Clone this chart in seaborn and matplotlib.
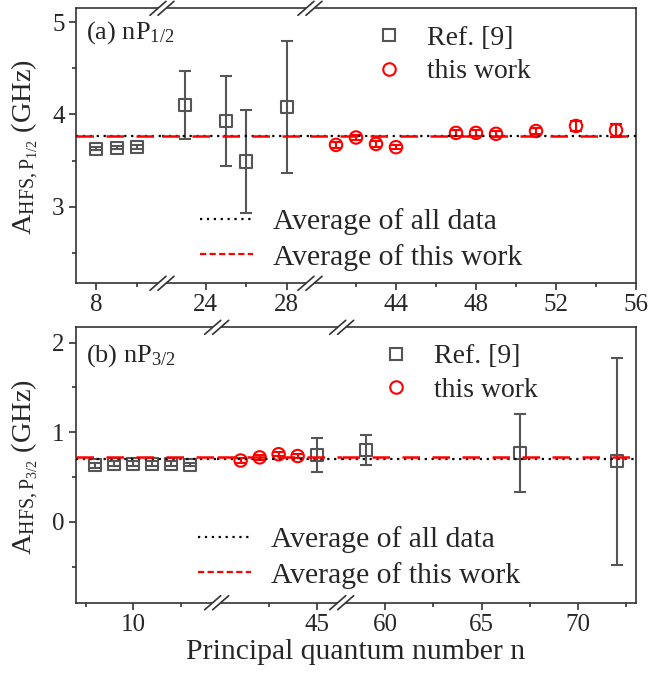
import numpy as np
import matplotlib
matplotlib.use('Agg')
import matplotlib.pyplot as plt
from matplotlib.lines import Line2D
from matplotlib.patches import Polygon
import seaborn as sns

# ---- data (a) nP1/2 ----
ref_n_p12 = [8, 9, 10, 23, 25, 26, 28]
ref_A_p12 = [3.63, 3.64, 3.645, 4.10, 3.93, 3.49, 4.08]
ref_err_p12 = [0.02, 0.02, 0.02, 0.37, 0.49, 0.56, 0.72]
tw_n_p12 = [41, 42, 43, 44, 47, 48, 49, 51, 53, 55]
tw_A_p12 = [3.67, 3.75, 3.68, 3.645, 3.80, 3.80, 3.79, 3.82, 3.875, 3.83]
tw_err_p12 = [0.03, 0.03, 0.03, 0.025, 0.03, 0.03, 0.03, 0.03, 0.05, 0.07]
avg_all_p12 = 3.77
avg_tw_p12 = 3.765

# ---- data (b) nP3/2 ----
ref_n_p32 = [8, 9, 10, 11, 12, 13, 45, 59, 67, 72]
ref_A_p32 = [0.63, 0.65, 0.65, 0.65, 0.65, 0.64, 0.745, 0.80, 0.77, 0.675]
ref_err_p32 = [0.03, 0.03, 0.03, 0.03, 0.03, 0.02, 0.19, 0.17, 0.435, 1.155]
tw_n_p32 = [41, 42, 43, 44]
tw_A_p32 = [0.685, 0.72, 0.755, 0.735]
tw_err_p32 = [0.03, 0.03, 0.02, 0.02]
avg_all_p32 = 0.707
avg_tw_p32 = 0.726

# broken x axis segments
xl_p12 = [(7.0, 11.2), (21.84, 29.15), (39.7, 56.0)]
maj_p12 = [[8], [24, 28], [44, 48, 52, 56]]
min_p12 = [[10], [26], [42, 46, 50, 54]]
xl_p32 = [(6.97, 14.39), (39.74, 46.32), (57.75, 73.0)]
maj_p32 = [[10], [45], [60, 65, 70]]
min_p32 = [[7.5, 12.5], [42.5], [62.5, 67.5, 72.5]]

W, H = 648, 675
GRAY = '#555555'
RED = '#ff0000'
SPINE = '#333333'

sns.set_style('ticks')
plt.rcParams['font.family'] = ['Liberation Serif', 'DejaVu Serif']
plt.rcParams['mathtext.fontset'] = 'custom'
plt.rcParams['mathtext.rm'] = 'Liberation Serif'
plt.rcParams['mathtext.it'] = 'Liberation Serif:italic'

fig = plt.figure(figsize=(W / 100, H / 100), dpi=100)


def brk(cx, cy):
    # "//" axis break mark, centre in pixels
    hx, hy, g = 8, 7, 8
    p = [(cx - g / 2 - hx, cy + hy), (cx - g / 2 + hx, cy - hy),
         (cx + g / 2 + hx, cy - hy), (cx + g / 2 - hx, cy + hy)]
    f = [(x / W, 1 - y / H) for x, y in p]
    fig.add_artist(Polygon(f, closed=True, fc='white', ec='none',
                           transform=fig.transFigure, zorder=10))
    for a, b in [(f[0], f[1]), (f[3], f[2])]:
        fig.add_artist(Line2D([a[0], b[0]], [a[1], b[1]], color=SPINE, lw=1.2,
                              transform=fig.transFigure, zorder=11))


def panel(edges, top, bot, xls, majs, mins, ylim, yt, ymt,
          rn, ra, re, tn, ta, te, avg_all, avg_tw):
    axes = []
    for i in range(3):
        x0, x1 = edges[i], edges[i + 1]
        ax = fig.add_axes([x0 / W, 1 - bot / H, (x1 - x0) / W, (bot - top) / H])
        ax.errorbar(rn, ra, yerr=re, fmt='none', ecolor=GRAY, elinewidth=1.5,
                    capsize=4, capthick=1.5, zorder=2)
        ax.errorbar(tn, ta, yerr=te, fmt='none', ecolor=RED, elinewidth=1.5,
                    capsize=4, capthick=1.5, zorder=2)
        sns.scatterplot(x=rn, y=ra, marker='s', s=75, facecolor='none',
                        edgecolor=GRAY, linewidth=1.5, ax=ax, zorder=3)
        sns.scatterplot(x=tn, y=ta, marker='o', s=80, facecolor='none',
                        edgecolor=RED, linewidth=1.5, ax=ax, zorder=3)
        ax.axhline(avg_all, color='black', lw=1.6, ls=(0, (1, 2.1)), zorder=4)
        ax.axhline(avg_tw, color=RED, lw=1.8, ls=(0, (7, 5)), zorder=4)
        ax.set_xlim(*xls[i])
        ax.set_ylim(*ylim)
        ax.set_xticks(majs[i])
        ax.set_xticks(mins[i], minor=True)
        ax.set_yticks(yt)
        ax.set_yticks(ymt, minor=True)
        for s in ax.spines.values():
            s.set_color(SPINE)
            s.set_linewidth(1.2)
        ax.tick_params(which='both', direction='out', color=SPINE, width=1.2,
                       labelsize=18, top=False, right=False, pad=3)
        ax.tick_params(which='major', length=5)
        ax.tick_params(which='minor', length=3)
        if i > 0:
            ax.spines['left'].set_visible(False)
            ax.tick_params(axis='y', which='both', left=False, labelleft=False)
        if i < 2:
            ax.spines['right'].set_visible(False)
        axes.append(ax)
    for e in edges[1:3]:
        brk(e, top)
        brk(e, bot)
    return axes


panel([75.7, 162, 310, 636], 8.3, 283.3, xl_p12, maj_p12, min_p12,
      (2.17, 5.15), [3, 4, 5], [2.5, 3.5, 4.5],
      ref_n_p12, ref_A_p12, ref_err_p12, tw_n_p12, tw_A_p12, tw_err_p12,
      avg_all_p12, avg_tw_p12)
panel([75.7, 216.7, 341.7, 636], 327.3, 602.7, xl_p32, maj_p32, min_p32,
      (-0.9, 2.17), [0, 1, 2], [-0.5, 0.5, 1.5],
      ref_n_p32, ref_A_p32, ref_err_p32, tw_n_p32, tw_A_p32, tw_err_p32,
      avg_all_p32, avg_tw_p32)

# labels
fig.text(25 / W, 1 - 147 / H, r'$\mathregular{A_{HFS,P_{1/2}}}$ (GHz)',
         rotation=90, ha='center', va='center', fontsize=20.5)
fig.text(25 / W, 1 - 467 / H, r'$\mathregular{A_{HFS,P_{3/2}}}$ (GHz)',
         rotation=90, ha='center', va='center', fontsize=20.5)
fig.text(86 / W, 1 - 39 / H, r'(a) nP$\mathregular{_{1/2}}$', fontsize=19, va='baseline')
fig.text(86 / W, 1 - 362 / H, r'(b) nP$\mathregular{_{3/2}}$', fontsize=19, va='baseline')
fig.text(355.8 / W, 1 - 652 / H, 'Principal quantum number n', ha='center',
         va='center', fontsize=21.3)

# legends
mk = [Line2D([], [], ls='none', marker='s', ms=8.5, mfc='none', mec=GRAY, mew=1.5),
      Line2D([], [], ls='none', marker='o', ms=9, mfc='none', mec=RED, mew=1.5)]
ln = [Line2D([], [], color='black', lw=1.6, ls=(0, (1, 2.1))),
      Line2D([], [], color=RED, lw=1.6, ls=(0, (2.8, 1.5)))]
for (mx, my), (lx, ly) in [((375.5, 25.5), (200, 208.5)), ((382, 343.8), (198, 526.5))]:
    fig.legend(mk, ['Ref. [9]', 'this work'], loc='upper left',
               bbox_to_anchor=(mx / W, 1 - my / H), frameon=False, fontsize=20,
               handlelength=1.0, handletextpad=0.87, labelspacing=0.29,
               borderpad=0, borderaxespad=0)
    fig.legend(ln, ['Average of all data', 'Average of this work'], loc='upper left',
               bbox_to_anchor=(lx / W, 1 - ly / H), frameon=False, fontsize=21.3,
               handlelength=1.79, handletextpad=0.68, labelspacing=0.28,
               borderpad=0, borderaxespad=0)

fig.savefig('out.png', dpi=100)
